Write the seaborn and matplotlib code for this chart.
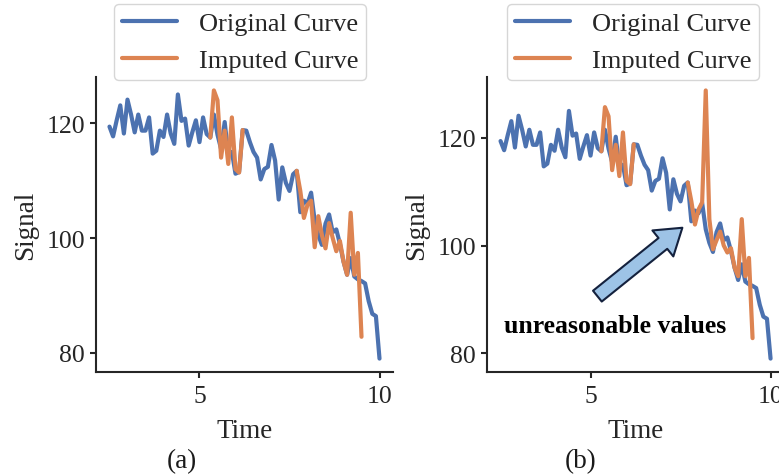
import matplotlib
matplotlib.use("Agg")
import matplotlib.pyplot as plt
import seaborn as sns
from matplotlib.patches import FancyArrowPatch
from matplotlib.lines import Line2D

# ---- data -------------------------------------------------------------
time = [2.5, 2.6, 2.7, 2.8, 2.9, 3.0, 3.1, 3.2, 3.3, 3.4,
        3.5, 3.6, 3.7, 3.8, 3.9, 4.0, 4.1, 4.2, 4.3, 4.4,
        4.5, 4.6, 4.7, 4.8, 4.9, 5.0, 5.1, 5.2, 5.3, 5.4,
        5.5, 5.6, 5.7, 5.8, 5.9, 6.0, 6.1, 6.2, 6.3, 6.4,
        6.5, 6.6, 6.7, 6.8, 6.9, 7.0, 7.1, 7.2, 7.3, 7.4,
        7.5, 7.6, 7.7, 7.8, 7.9, 8.0, 8.1, 8.2, 8.3, 8.4,
        8.5, 8.6, 8.7, 8.8, 8.9, 9.0, 9.1, 9.2, 9.3, 9.4,
        9.5, 9.6, 9.7, 9.8, 9.9, 10.0]
original = [119.4, 117.7, 120.5, 123.1, 118.2, 124.1, 121.5, 118.4, 121.5, 118.7,
            118.7, 121.0, 114.7, 115.2, 118.7, 117.6, 121.5, 118.2, 116.4, 125.0,
            120.4, 120.8, 116.1, 118.4, 120.5, 116.7, 121.0, 118.1, 117.5, 121.5,
            118.0, 115.5, 120.2, 114.5, 115.0, 111.2, 111.5, 118.8, 118.7, 116.7,
            115.0, 114.0, 110.2, 112.0, 112.4, 116.2, 113.5, 106.7, 112.3, 109.6,
            108.2, 111.1, 111.7, 104.5, 106.5, 106.0, 107.9, 103.0, 100.5, 98.8,
            102.5, 104.1, 101.0, 101.5, 99.0, 95.9, 93.6, 96.5, 93.3, 92.8,
            92.5, 92.1, 89.0, 86.8, 86.4, 79.0]

imp1_time = [5.3, 5.4, 5.5, 5.6, 5.7, 5.8, 5.9, 6.0, 6.1, 6.2]
imp1_vals = [117.5, 125.7, 124.0, 114.0, 118.7, 112.9, 121.0, 112.0, 111.4, 118.8]

imp2_time = [7.7, 7.8, 7.9, 8.0, 8.1, 8.2, 8.3, 8.4, 8.5, 8.6,
             8.7, 8.8, 8.9, 9.0, 9.1, 9.2, 9.3, 9.4, 9.5]
imp2_vals_a = [111.7, 108.2, 103.5, 105.8, 106.5, 98.4, 103.8, 100.5, 98.2, 102.6,
               100.0, 97.7, 99.5, 95.9, 93.6, 104.4, 93.6, 97.4, 82.8]
imp2_vals_b = [111.7, 108.2, 103.9, 106.7, 108.0, 128.8, 104.9, 99.3, 101.0, 102.6,
               100.0, 98.7, 99.5, 95.9, 94.3, 104.9, 94.3, 97.7, 82.8]

xticks = [5, 10]
yticks = [80, 100, 120]
panel_labels = ["(a)", "(b)"]
legend_labels = ["Original Curve", "Imputed Curve"]
annot_text = "unreasonable values"

# ---- style ------------------------------------------------------------
sns.set_theme(style="ticks")
plt.rcParams["font.family"] = ["Liberation Serif", "DejaVu Serif"]
plt.rcParams["axes.linewidth"] = 1.5
plt.rcParams["xtick.major.width"] = 1.5
plt.rcParams["ytick.major.width"] = 1.5
plt.rcParams["xtick.major.size"] = 4.5
plt.rcParams["ytick.major.size"] = 4.5

BLUE = "#4c72b0"
ORANGE = "#dd8452"
LW = 3.0

fig = plt.figure(figsize=(7.79, 4.77), dpi=100)
ax_a = fig.add_axes([0.1232, 0.2180, 0.3813, 0.6184])
ax_b = fig.add_axes([0.6252, 0.2180, 0.3813, 0.6184])

for ax, imp2_vals in ((ax_a, imp2_vals_a), (ax_b, imp2_vals_b)):
    sns.lineplot(x=time, y=original, color=BLUE, lw=LW, ax=ax)
    sns.lineplot(x=imp1_time, y=imp1_vals, color=ORANGE, lw=LW, ax=ax)
    sns.lineplot(x=imp2_time, y=imp2_vals, color=ORANGE, lw=LW, ax=ax)
    ax.set_xticks(xticks)
    ax.set_yticks(yticks)
    ax.tick_params(labelsize=18.5, colors="#262626")
    ax.tick_params(axis="x", pad=5)
    ax.set_xlabel("Time", fontsize=19.5, labelpad=8)
    ax.set_ylabel("Signal", fontsize=19.5, labelpad=6)
    sns.despine(ax=ax)
    for sp in ("left", "bottom"):
        ax.spines[sp].set_color("#262626")

handles = [Line2D([], [], color=BLUE, lw=LW), Line2D([], [], color=ORANGE, lw=LW)]
for cx in (240 / 779, 633 / 779):
    fig.legend(handles, legend_labels, loc="upper center",
               bbox_to_anchor=(cx, 1 - 5 / 477), fontsize=19,
               handlelength=2.1, handletextpad=0.8, borderpad=0.3,
               labelspacing=0.5, borderaxespad=0, frameon=True)

fig.text(182 / 779, 1 - 462 / 477, panel_labels[0], fontsize=19.5,
         ha="center", va="center", color="#1a1a1a")
fig.text(581 / 779, 1 - 462 / 477, panel_labels[1], fontsize=19.5,
         ha="center", va="center", color="#1a1a1a")

# annotation in panel (b)
arrow = FancyArrowPatch((5.19, 90.6), (7.55, 103.3),
                        arrowstyle="simple,head_length=18,head_width=24,tail_width=10",
                        mutation_scale=1, fc="#9dc3e6", ec="#14213d", lw=1.5,
                        shrinkA=0, shrinkB=0, zorder=5)
ax_b.add_patch(arrow)
ax_b.text(5.68, 85.2, annot_text, fontsize=18.5, fontweight="bold",
          ha="center", va="center", color="black", zorder=6)

fig.savefig("out.png", dpi=100)
